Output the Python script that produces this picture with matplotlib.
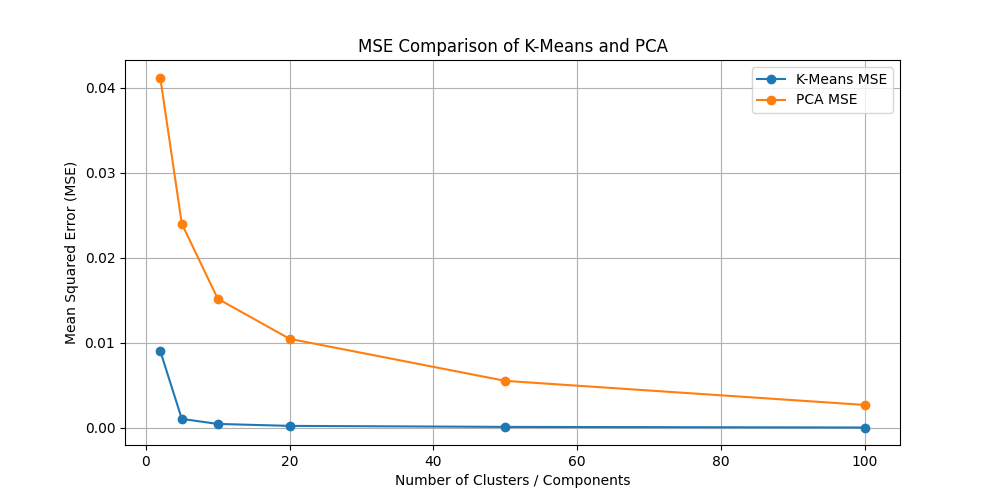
import matplotlib
matplotlib.use("Agg")
import matplotlib.pyplot as plt

n_values = [2, 5, 10, 20, 50, 100]
kmeans_mse = [0.00906, 0.00106, 0.00047, 0.00024, 0.00012, 0.00005]
pca_mse = [0.04118, 0.0240, 0.01518, 0.01047, 0.00553, 0.0027]

fig, ax = plt.subplots(figsize=(10, 5), dpi=100)
ax.plot(n_values, kmeans_mse, marker='o', label='K-Means MSE')
ax.plot(n_values, pca_mse, marker='o', label='PCA MSE')
ax.set_title('MSE Comparison of K-Means and PCA')
ax.set_xlabel('Number of Clusters / Components')
ax.set_ylabel('Mean Squared Error (MSE)')
ax.legend()
ax.grid(True)
fig.savefig('out.png')
